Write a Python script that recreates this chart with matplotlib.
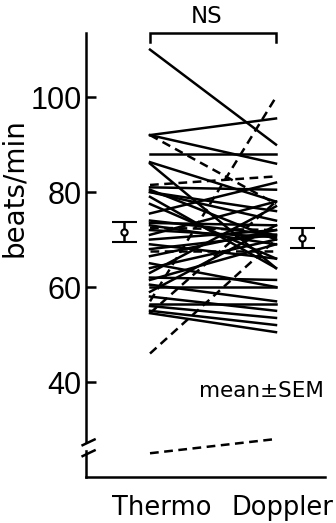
import numpy as np
import matplotlib.pyplot as plt
from matplotlib.transforms import blended_transform_factory

plt.rcParams['font.family'] = ['DejaVu Sans']
plt.rcParams['lines.linewidth'] = 1.8

# paired readings, beats/min (Thermo -> Doppler)
thermo_solid = [110, 92, 92, 88, 86.3, 86, 81, 80.5, 80, 80, 79, 77.5, 75.5, 74,
                73.5, 73, 72, 71, 70, 69, 68, 66.5, 65, 64, 63, 62, 61.5, 60.5,
                60, 59, 58, 56.5, 56, 55, 54.5]
doppler_solid = [90, 95.5, 86, 88, 78, 64, 80.5, 70, 76, 74, 64, 66, 82, 71,
                 73, 69, 70.5, 78, 72, 66, 71, 72, 60, 70, 77, 61.5, 69, 57,
                 60, 73, 55, 56.5, 53.5, 52, 50.5]
thermo_dash = [92, 81.5, 57, 46, 67.5, 72.5, 54.5, 25]
doppler_dash = [77.5, 83.3, 100, 70, 67.5, 72, 78, 28]

mean_vals = [71.6, 70.3]
sem_vals = [2.2, 2.1]
yticks = [40, 60, 80, 100]
cats = ['Thermo', 'Doppler']

fig = plt.figure(figsize=(3.36, 5.23), dpi=100)
ax = fig.add_axes([86/336, 1-477/523, (325-86)/336, 444/523])
ax.set_xlim(-0.508, 1.389)
ax.set_ylim(20, 113.5)

for a, b in zip(thermo_solid, doppler_solid):
    ax.plot([0, 1], [a, b], '-', c='k')
for a, b in zip(thermo_dash, doppler_dash):
    ax.plot([0, 1], [a, b], c='k', ls=(0, (3.5, 2.2)))

# mean +- SEM
ax.errorbar([-0.206, 1.206], mean_vals, yerr=sem_vals, fmt='o', c='k',
            mfc='white', ms=4.5, mew=1.5, elinewidth=1.8, capsize=9,
            capthick=2)

# NS bracket
ax.plot([0, 0, 1, 1], [111.6, 113.6, 113.6, 111.6], c='k', lw=1.8,
        clip_on=False, solid_joinstyle='miter')
ax.text(0.45, 117.0, 'NS', ha='center', va='center', fontsize=16.5)

ax.text(1.38, 38.1, 'mean\u00b1SEM', ha='right', va='center', fontsize=15.5)

ax.spines['top'].set_visible(False)
ax.spines['right'].set_visible(False)
ax.spines['left'].set_linewidth(1.8)
ax.spines['bottom'].set_linewidth(1.8)

ax.set_yticks(yticks)
ax.set_yticklabels([str(t) for t in yticks], family=['Liberation Sans', 'DejaVu Sans'],
                   fontsize=22)
ax.tick_params(axis='y', direction='in', length=7, width=1.8, pad=3)
ax.set_xticks([])

# axis break marks
ax.add_patch(plt.Rectangle((-0.53, 25.8), 0.05, 1.2, color='white', clip_on=False, zorder=5))
for yb in [25.0, 27.3]:
    ax.plot([-0.535, -0.44], [yb - 0.6, yb + 0.6], c='k', lw=1.8, clip_on=False, zorder=6)

trans = blended_transform_factory(ax.transData, fig.transFigure)
ax.text(0.09, 1 - 508/523, cats[0], transform=trans, ha='center', va='center',
        fontsize=18.5)
ax.text(1.05, 1 - 508/523, cats[1], transform=trans, ha='center', va='center',
        fontsize=18.5)

ax.set_ylabel('beats/min', fontsize=20)
ax.yaxis.set_label_coords(-(86-28)/239, (523-188-46)/444)

fig.savefig('out.png', dpi=100)
